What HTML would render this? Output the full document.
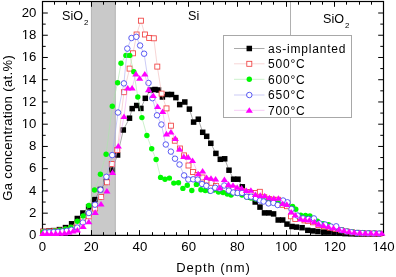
<!DOCTYPE html>
<html><head><meta charset="utf-8"><style>
html,body{margin:0;padding:0;background:#fff;}
svg{display:block;will-change:transform;}
text{font-family:"Liberation Sans",sans-serif;fill:#000;}
</style></head><body>
<svg width="396" height="277" viewBox="0 0 396 277">
<rect width="396" height="277" fill="#fff"/>
<rect x="91.4" y="1.5" width="23.90" height="233.9" fill="#c9c9c9" stroke="#b4b4b4" stroke-width="1"/><line x1="290.5" y1="1.5" x2="290.5" y2="235.4" stroke="#b0b0b0" stroke-width="1.0"/>
<g stroke="#000" stroke-width="1.0"><line x1="42.5" y1="235.40" x2="47.8" y2="235.40"/><line x1="383.5" y1="235.40" x2="378.2" y2="235.40"/><line x1="42.5" y1="224.28" x2="45.7" y2="224.28"/><line x1="383.5" y1="224.28" x2="380.3" y2="224.28"/><line x1="42.5" y1="213.16" x2="47.8" y2="213.16"/><line x1="383.5" y1="213.16" x2="378.2" y2="213.16"/><line x1="42.5" y1="202.04" x2="45.7" y2="202.04"/><line x1="383.5" y1="202.04" x2="380.3" y2="202.04"/><line x1="42.5" y1="190.92" x2="47.8" y2="190.92"/><line x1="383.5" y1="190.92" x2="378.2" y2="190.92"/><line x1="42.5" y1="179.80" x2="45.7" y2="179.80"/><line x1="383.5" y1="179.80" x2="380.3" y2="179.80"/><line x1="42.5" y1="168.68" x2="47.8" y2="168.68"/><line x1="383.5" y1="168.68" x2="378.2" y2="168.68"/><line x1="42.5" y1="157.56" x2="45.7" y2="157.56"/><line x1="383.5" y1="157.56" x2="380.3" y2="157.56"/><line x1="42.5" y1="146.44" x2="47.8" y2="146.44"/><line x1="383.5" y1="146.44" x2="378.2" y2="146.44"/><line x1="42.5" y1="135.32" x2="45.7" y2="135.32"/><line x1="383.5" y1="135.32" x2="380.3" y2="135.32"/><line x1="42.5" y1="124.20" x2="47.8" y2="124.20"/><line x1="383.5" y1="124.20" x2="378.2" y2="124.20"/><line x1="42.5" y1="113.08" x2="45.7" y2="113.08"/><line x1="383.5" y1="113.08" x2="380.3" y2="113.08"/><line x1="42.5" y1="101.96" x2="47.8" y2="101.96"/><line x1="383.5" y1="101.96" x2="378.2" y2="101.96"/><line x1="42.5" y1="90.84" x2="45.7" y2="90.84"/><line x1="383.5" y1="90.84" x2="380.3" y2="90.84"/><line x1="42.5" y1="79.72" x2="47.8" y2="79.72"/><line x1="383.5" y1="79.72" x2="378.2" y2="79.72"/><line x1="42.5" y1="68.60" x2="45.7" y2="68.60"/><line x1="383.5" y1="68.60" x2="380.3" y2="68.60"/><line x1="42.5" y1="57.48" x2="47.8" y2="57.48"/><line x1="383.5" y1="57.48" x2="378.2" y2="57.48"/><line x1="42.5" y1="46.36" x2="45.7" y2="46.36"/><line x1="383.5" y1="46.36" x2="380.3" y2="46.36"/><line x1="42.5" y1="35.24" x2="47.8" y2="35.24"/><line x1="383.5" y1="35.24" x2="378.2" y2="35.24"/><line x1="42.5" y1="24.12" x2="45.7" y2="24.12"/><line x1="383.5" y1="24.12" x2="380.3" y2="24.12"/><line x1="42.5" y1="13.00" x2="47.8" y2="13.00"/><line x1="383.5" y1="13.00" x2="378.2" y2="13.00"/><line x1="42.50" y1="235.4" x2="42.50" y2="230.1"/><line x1="42.50" y1="1.5" x2="42.50" y2="6.8"/><line x1="54.50" y1="235.4" x2="54.50" y2="232.20000000000002"/><line x1="54.50" y1="1.5" x2="54.50" y2="4.7"/><line x1="66.50" y1="235.4" x2="66.50" y2="232.20000000000002"/><line x1="66.50" y1="1.5" x2="66.50" y2="4.7"/><line x1="79.50" y1="235.4" x2="79.50" y2="232.20000000000002"/><line x1="79.50" y1="1.5" x2="79.50" y2="4.7"/><line x1="91.50" y1="235.4" x2="91.50" y2="230.1"/><line x1="91.50" y1="1.5" x2="91.50" y2="6.8"/><line x1="103.50" y1="235.4" x2="103.50" y2="232.20000000000002"/><line x1="103.50" y1="1.5" x2="103.50" y2="4.7"/><line x1="115.50" y1="235.4" x2="115.50" y2="232.20000000000002"/><line x1="115.50" y1="1.5" x2="115.50" y2="4.7"/><line x1="127.50" y1="235.4" x2="127.50" y2="232.20000000000002"/><line x1="127.50" y1="1.5" x2="127.50" y2="4.7"/><line x1="139.50" y1="235.4" x2="139.50" y2="230.1"/><line x1="139.50" y1="1.5" x2="139.50" y2="6.8"/><line x1="152.50" y1="235.4" x2="152.50" y2="232.20000000000002"/><line x1="152.50" y1="1.5" x2="152.50" y2="4.7"/><line x1="164.50" y1="235.4" x2="164.50" y2="232.20000000000002"/><line x1="164.50" y1="1.5" x2="164.50" y2="4.7"/><line x1="176.50" y1="235.4" x2="176.50" y2="232.20000000000002"/><line x1="176.50" y1="1.5" x2="176.50" y2="4.7"/><line x1="188.50" y1="235.4" x2="188.50" y2="230.1"/><line x1="188.50" y1="1.5" x2="188.50" y2="6.8"/><line x1="200.50" y1="235.4" x2="200.50" y2="232.20000000000002"/><line x1="200.50" y1="1.5" x2="200.50" y2="4.7"/><line x1="213.50" y1="235.4" x2="213.50" y2="232.20000000000002"/><line x1="213.50" y1="1.5" x2="213.50" y2="4.7"/><line x1="225.50" y1="235.4" x2="225.50" y2="232.20000000000002"/><line x1="225.50" y1="1.5" x2="225.50" y2="4.7"/><line x1="237.50" y1="235.4" x2="237.50" y2="230.1"/><line x1="237.50" y1="1.5" x2="237.50" y2="6.8"/><line x1="249.50" y1="235.4" x2="249.50" y2="232.20000000000002"/><line x1="249.50" y1="1.5" x2="249.50" y2="4.7"/><line x1="261.50" y1="235.4" x2="261.50" y2="232.20000000000002"/><line x1="261.50" y1="1.5" x2="261.50" y2="4.7"/><line x1="273.50" y1="235.4" x2="273.50" y2="232.20000000000002"/><line x1="273.50" y1="1.5" x2="273.50" y2="4.7"/><line x1="286.50" y1="235.4" x2="286.50" y2="230.1"/><line x1="286.50" y1="1.5" x2="286.50" y2="6.8"/><line x1="298.50" y1="235.4" x2="298.50" y2="232.20000000000002"/><line x1="298.50" y1="1.5" x2="298.50" y2="4.7"/><line x1="310.50" y1="235.4" x2="310.50" y2="232.20000000000002"/><line x1="310.50" y1="1.5" x2="310.50" y2="4.7"/><line x1="322.50" y1="235.4" x2="322.50" y2="232.20000000000002"/><line x1="322.50" y1="1.5" x2="322.50" y2="4.7"/><line x1="334.50" y1="235.4" x2="334.50" y2="230.1"/><line x1="334.50" y1="1.5" x2="334.50" y2="6.8"/><line x1="346.50" y1="235.4" x2="346.50" y2="232.20000000000002"/><line x1="346.50" y1="1.5" x2="346.50" y2="4.7"/><line x1="359.50" y1="235.4" x2="359.50" y2="232.20000000000002"/><line x1="359.50" y1="1.5" x2="359.50" y2="4.7"/><line x1="371.50" y1="235.4" x2="371.50" y2="232.20000000000002"/><line x1="371.50" y1="1.5" x2="371.50" y2="4.7"/><line x1="383.50" y1="235.4" x2="383.50" y2="230.1"/><line x1="383.50" y1="1.5" x2="383.50" y2="6.8"/></g>
<rect x="42.5" y="1.5" width="341.0" height="233.9" fill="none" stroke="#000" stroke-width="1.2"/>
<g><polyline points="43.2,231.5 48.9,231.0 53.5,230.6 59.4,229.6 65.5,227.6 71.6,223.8 77.3,218.5 82.9,213.0 88.6,207.0 94.8,199.6 100.4,189.5 106.4,181.5 111.8,170.0 117.6,155.0 123.3,130.0 129.5,118.2 132.2,108.6 136.7,105.5 140.9,108.4 145.3,98.3 150.5,90.0 155.0,89.5 158.5,90.0 162.4,97.0 167.7,94.5 171.5,94.5 175.9,97.6 179.7,104.6 184.8,102.0 189.4,109.1 193.6,122.1 198.3,119.2 202.7,132.3 206.7,136.3 210.8,143.3 215.9,153.4 220.3,159.3 224.7,158.8 229.0,170.2 233.6,179.2 238.0,179.2 242.3,186.8 246.5,192.0 250.8,197.0 255.2,202.0 260.0,207.1 264.5,212.9 269.1,212.9 273.6,213.9 278.2,220.0 282.7,220.0 287.0,224.1 292.0,226.5 296.5,227.1 302.1,227.7 307.8,230.3 312.8,230.9 317.9,231.5 323.6,232.1 328.6,232.1 334.0,232.9 339.5,233.3 345.0,233.6 350.5,233.8 356.0,234.0 361.5,234.0 367.0,234.1 372.5,234.1 378.0,234.2" fill="none" stroke="#707070" stroke-width="0.6"/><rect x="40.45" y="228.75" width="5.5" height="5.5" fill="#000" stroke="#000" stroke-width="0.0"/><rect x="46.15" y="228.25" width="5.5" height="5.5" fill="#000" stroke="#000" stroke-width="0.0"/><rect x="50.75" y="227.85" width="5.5" height="5.5" fill="#000" stroke="#000" stroke-width="0.0"/><rect x="56.65" y="226.85" width="5.5" height="5.5" fill="#000" stroke="#000" stroke-width="0.0"/><rect x="62.75" y="224.85" width="5.5" height="5.5" fill="#000" stroke="#000" stroke-width="0.0"/><rect x="68.85" y="221.05" width="5.5" height="5.5" fill="#000" stroke="#000" stroke-width="0.0"/><rect x="74.55" y="215.75" width="5.5" height="5.5" fill="#000" stroke="#000" stroke-width="0.0"/><rect x="80.15" y="210.25" width="5.5" height="5.5" fill="#000" stroke="#000" stroke-width="0.0"/><rect x="85.85" y="204.25" width="5.5" height="5.5" fill="#000" stroke="#000" stroke-width="0.0"/><rect x="92.05" y="196.85" width="5.5" height="5.5" fill="#000" stroke="#000" stroke-width="0.0"/><rect x="97.65" y="186.75" width="5.5" height="5.5" fill="#000" stroke="#000" stroke-width="0.0"/><rect x="103.65" y="178.75" width="5.5" height="5.5" fill="#000" stroke="#000" stroke-width="0.0"/><rect x="109.05" y="167.25" width="5.5" height="5.5" fill="#000" stroke="#000" stroke-width="0.0"/><rect x="114.85" y="152.25" width="5.5" height="5.5" fill="#000" stroke="#000" stroke-width="0.0"/><rect x="120.55" y="127.25" width="5.5" height="5.5" fill="#000" stroke="#000" stroke-width="0.0"/><rect x="126.75" y="115.45" width="5.5" height="5.5" fill="#000" stroke="#000" stroke-width="0.0"/><rect x="129.45" y="105.85" width="5.5" height="5.5" fill="#000" stroke="#000" stroke-width="0.0"/><rect x="133.95" y="102.75" width="5.5" height="5.5" fill="#000" stroke="#000" stroke-width="0.0"/><rect x="138.15" y="105.65" width="5.5" height="5.5" fill="#000" stroke="#000" stroke-width="0.0"/><rect x="142.55" y="95.55" width="5.5" height="5.5" fill="#000" stroke="#000" stroke-width="0.0"/><rect x="147.75" y="87.25" width="5.5" height="5.5" fill="#000" stroke="#000" stroke-width="0.0"/><rect x="152.25" y="86.75" width="5.5" height="5.5" fill="#000" stroke="#000" stroke-width="0.0"/><rect x="155.75" y="87.25" width="5.5" height="5.5" fill="#000" stroke="#000" stroke-width="0.0"/><rect x="159.65" y="94.25" width="5.5" height="5.5" fill="#000" stroke="#000" stroke-width="0.0"/><rect x="164.95" y="91.75" width="5.5" height="5.5" fill="#000" stroke="#000" stroke-width="0.0"/><rect x="168.75" y="91.75" width="5.5" height="5.5" fill="#000" stroke="#000" stroke-width="0.0"/><rect x="173.15" y="94.85" width="5.5" height="5.5" fill="#000" stroke="#000" stroke-width="0.0"/><rect x="176.95" y="101.85" width="5.5" height="5.5" fill="#000" stroke="#000" stroke-width="0.0"/><rect x="182.05" y="99.25" width="5.5" height="5.5" fill="#000" stroke="#000" stroke-width="0.0"/><rect x="186.65" y="106.35" width="5.5" height="5.5" fill="#000" stroke="#000" stroke-width="0.0"/><rect x="190.85" y="119.35" width="5.5" height="5.5" fill="#000" stroke="#000" stroke-width="0.0"/><rect x="195.55" y="116.45" width="5.5" height="5.5" fill="#000" stroke="#000" stroke-width="0.0"/><rect x="199.95" y="129.55" width="5.5" height="5.5" fill="#000" stroke="#000" stroke-width="0.0"/><rect x="203.95" y="133.55" width="5.5" height="5.5" fill="#000" stroke="#000" stroke-width="0.0"/><rect x="208.05" y="140.55" width="5.5" height="5.5" fill="#000" stroke="#000" stroke-width="0.0"/><rect x="213.15" y="150.65" width="5.5" height="5.5" fill="#000" stroke="#000" stroke-width="0.0"/><rect x="217.55" y="156.55" width="5.5" height="5.5" fill="#000" stroke="#000" stroke-width="0.0"/><rect x="221.95" y="156.05" width="5.5" height="5.5" fill="#000" stroke="#000" stroke-width="0.0"/><rect x="226.25" y="167.45" width="5.5" height="5.5" fill="#000" stroke="#000" stroke-width="0.0"/><rect x="230.85" y="176.45" width="5.5" height="5.5" fill="#000" stroke="#000" stroke-width="0.0"/><rect x="235.25" y="176.45" width="5.5" height="5.5" fill="#000" stroke="#000" stroke-width="0.0"/><rect x="239.55" y="184.05" width="5.5" height="5.5" fill="#000" stroke="#000" stroke-width="0.0"/><rect x="243.75" y="189.25" width="5.5" height="5.5" fill="#000" stroke="#000" stroke-width="0.0"/><rect x="248.05" y="194.25" width="5.5" height="5.5" fill="#000" stroke="#000" stroke-width="0.0"/><rect x="252.45" y="199.25" width="5.5" height="5.5" fill="#000" stroke="#000" stroke-width="0.0"/><rect x="257.25" y="204.35" width="5.5" height="5.5" fill="#000" stroke="#000" stroke-width="0.0"/><rect x="261.75" y="210.15" width="5.5" height="5.5" fill="#000" stroke="#000" stroke-width="0.0"/><rect x="266.35" y="210.15" width="5.5" height="5.5" fill="#000" stroke="#000" stroke-width="0.0"/><rect x="270.85" y="211.15" width="5.5" height="5.5" fill="#000" stroke="#000" stroke-width="0.0"/><rect x="275.45" y="217.25" width="5.5" height="5.5" fill="#000" stroke="#000" stroke-width="0.0"/><rect x="279.95" y="217.25" width="5.5" height="5.5" fill="#000" stroke="#000" stroke-width="0.0"/><rect x="284.25" y="221.35" width="5.5" height="5.5" fill="#000" stroke="#000" stroke-width="0.0"/><rect x="289.25" y="223.75" width="5.5" height="5.5" fill="#000" stroke="#000" stroke-width="0.0"/><rect x="293.75" y="224.35" width="5.5" height="5.5" fill="#000" stroke="#000" stroke-width="0.0"/><rect x="299.35" y="224.95" width="5.5" height="5.5" fill="#000" stroke="#000" stroke-width="0.0"/><rect x="305.05" y="227.55" width="5.5" height="5.5" fill="#000" stroke="#000" stroke-width="0.0"/><rect x="310.05" y="228.15" width="5.5" height="5.5" fill="#000" stroke="#000" stroke-width="0.0"/><rect x="315.15" y="228.75" width="5.5" height="5.5" fill="#000" stroke="#000" stroke-width="0.0"/><rect x="320.85" y="229.35" width="5.5" height="5.5" fill="#000" stroke="#000" stroke-width="0.0"/><rect x="325.85" y="229.35" width="5.5" height="5.5" fill="#000" stroke="#000" stroke-width="0.0"/><rect x="331.25" y="230.15" width="5.5" height="5.5" fill="#000" stroke="#000" stroke-width="0.0"/><rect x="336.75" y="230.55" width="5.5" height="5.5" fill="#000" stroke="#000" stroke-width="0.0"/><rect x="342.25" y="230.85" width="5.5" height="5.5" fill="#000" stroke="#000" stroke-width="0.0"/><rect x="347.75" y="231.05" width="5.5" height="5.5" fill="#000" stroke="#000" stroke-width="0.0"/><rect x="353.25" y="231.25" width="5.5" height="5.5" fill="#000" stroke="#000" stroke-width="0.0"/><rect x="358.75" y="231.25" width="5.5" height="5.5" fill="#000" stroke="#000" stroke-width="0.0"/><rect x="364.25" y="231.35" width="5.5" height="5.5" fill="#000" stroke="#000" stroke-width="0.0"/><rect x="369.75" y="231.35" width="5.5" height="5.5" fill="#000" stroke="#000" stroke-width="0.0"/><rect x="375.25" y="231.45" width="5.5" height="5.5" fill="#000" stroke="#000" stroke-width="0.0"/><polyline points="43.2,231.6 48.9,231.4 54.6,231.0 60.3,230.6 66.0,229.8 71.7,227.8 77.4,224.5 83.1,220.0 88.8,216.3 94.9,208.5 101.2,197.0 106.9,182.3 111.8,164.0 117.3,150.0 123.9,92.2 129.6,68.6 133.0,53.3 136.6,34.5 140.9,20.7 144.9,34.5 149.2,37.9 153.8,38.3 157.3,66.6 161.6,93.6 166.5,108.4 170.9,125.7 174.8,140.7 179.9,148.5 184.0,155.4 188.5,165.5 193.0,172.0 197.5,175.0 202.5,177.5 207.0,180.5 211.5,182.8 216.0,186.0 220.0,190.5 224.5,189.0 229.0,189.5 233.3,188.5 238.0,190.0 242.5,191.0 247.0,192.0 251.5,193.0 255.5,193.0 259.8,191.8 264.3,197.3 269.0,199.1 273.5,199.8 278.0,199.8 282.5,204.8 287.0,206.2 291.0,216.3 295.3,219.0 300.0,217.0 304.5,220.4 307.8,220.8 313.0,222.3 318.5,225.1 324.0,226.3 329.5,227.4 330.0,227.6 335.5,228.9 341.0,230.2 346.5,231.5 352.0,232.4 357.5,232.9 363.0,233.3 368.5,233.5 374.0,233.6 379.5,233.7" fill="none" stroke="#f0b8b8" stroke-width="0.6"/><rect x="40.70" y="229.10" width="5.0" height="5.0" fill="#fff" stroke="#f04040" stroke-width="0.85"/><rect x="46.40" y="228.90" width="5.0" height="5.0" fill="#fff" stroke="#f04040" stroke-width="0.85"/><rect x="52.10" y="228.50" width="5.0" height="5.0" fill="#fff" stroke="#f04040" stroke-width="0.85"/><rect x="57.80" y="228.10" width="5.0" height="5.0" fill="#fff" stroke="#f04040" stroke-width="0.85"/><rect x="63.50" y="227.30" width="5.0" height="5.0" fill="#fff" stroke="#f04040" stroke-width="0.85"/><rect x="69.20" y="225.30" width="5.0" height="5.0" fill="#fff" stroke="#f04040" stroke-width="0.85"/><rect x="74.90" y="222.00" width="5.0" height="5.0" fill="#fff" stroke="#f04040" stroke-width="0.85"/><rect x="80.60" y="217.50" width="5.0" height="5.0" fill="#fff" stroke="#f04040" stroke-width="0.85"/><rect x="86.30" y="213.80" width="5.0" height="5.0" fill="#fff" stroke="#f04040" stroke-width="0.85"/><rect x="92.40" y="206.00" width="5.0" height="5.0" fill="#fff" stroke="#f04040" stroke-width="0.85"/><rect x="98.70" y="194.50" width="5.0" height="5.0" fill="#fff" stroke="#f04040" stroke-width="0.85"/><rect x="104.40" y="179.80" width="5.0" height="5.0" fill="#fff" stroke="#f04040" stroke-width="0.85"/><rect x="109.30" y="161.50" width="5.0" height="5.0" fill="#fff" stroke="#f04040" stroke-width="0.85"/><rect x="114.80" y="147.50" width="5.0" height="5.0" fill="#fff" stroke="#f04040" stroke-width="0.85"/><rect x="121.40" y="89.70" width="5.0" height="5.0" fill="#fff" stroke="#f04040" stroke-width="0.85"/><rect x="127.10" y="66.10" width="5.0" height="5.0" fill="#fff" stroke="#f04040" stroke-width="0.85"/><rect x="130.50" y="50.80" width="5.0" height="5.0" fill="#fff" stroke="#f04040" stroke-width="0.85"/><rect x="134.10" y="32.00" width="5.0" height="5.0" fill="#fff" stroke="#f04040" stroke-width="0.85"/><rect x="138.40" y="18.20" width="5.0" height="5.0" fill="#fff" stroke="#f04040" stroke-width="0.85"/><rect x="142.40" y="32.00" width="5.0" height="5.0" fill="#fff" stroke="#f04040" stroke-width="0.85"/><rect x="146.70" y="35.40" width="5.0" height="5.0" fill="#fff" stroke="#f04040" stroke-width="0.85"/><rect x="151.30" y="35.80" width="5.0" height="5.0" fill="#fff" stroke="#f04040" stroke-width="0.85"/><rect x="154.80" y="64.10" width="5.0" height="5.0" fill="#fff" stroke="#f04040" stroke-width="0.85"/><rect x="159.10" y="91.10" width="5.0" height="5.0" fill="#fff" stroke="#f04040" stroke-width="0.85"/><rect x="164.00" y="105.90" width="5.0" height="5.0" fill="#fff" stroke="#f04040" stroke-width="0.85"/><rect x="168.40" y="123.20" width="5.0" height="5.0" fill="#fff" stroke="#f04040" stroke-width="0.85"/><rect x="172.30" y="138.20" width="5.0" height="5.0" fill="#fff" stroke="#f04040" stroke-width="0.85"/><rect x="177.40" y="146.00" width="5.0" height="5.0" fill="#fff" stroke="#f04040" stroke-width="0.85"/><rect x="181.50" y="152.90" width="5.0" height="5.0" fill="#fff" stroke="#f04040" stroke-width="0.85"/><rect x="186.00" y="163.00" width="5.0" height="5.0" fill="#fff" stroke="#f04040" stroke-width="0.85"/><rect x="190.50" y="169.50" width="5.0" height="5.0" fill="#fff" stroke="#f04040" stroke-width="0.85"/><rect x="195.00" y="172.50" width="5.0" height="5.0" fill="#fff" stroke="#f04040" stroke-width="0.85"/><rect x="200.00" y="175.00" width="5.0" height="5.0" fill="#fff" stroke="#f04040" stroke-width="0.85"/><rect x="204.50" y="178.00" width="5.0" height="5.0" fill="#fff" stroke="#f04040" stroke-width="0.85"/><rect x="209.00" y="180.30" width="5.0" height="5.0" fill="#fff" stroke="#f04040" stroke-width="0.85"/><rect x="213.50" y="183.50" width="5.0" height="5.0" fill="#fff" stroke="#f04040" stroke-width="0.85"/><rect x="217.50" y="188.00" width="5.0" height="5.0" fill="#fff" stroke="#f04040" stroke-width="0.85"/><rect x="222.00" y="186.50" width="5.0" height="5.0" fill="#fff" stroke="#f04040" stroke-width="0.85"/><rect x="226.50" y="187.00" width="5.0" height="5.0" fill="#fff" stroke="#f04040" stroke-width="0.85"/><rect x="230.80" y="186.00" width="5.0" height="5.0" fill="#fff" stroke="#f04040" stroke-width="0.85"/><rect x="235.50" y="187.50" width="5.0" height="5.0" fill="#fff" stroke="#f04040" stroke-width="0.85"/><rect x="240.00" y="188.50" width="5.0" height="5.0" fill="#fff" stroke="#f04040" stroke-width="0.85"/><rect x="244.50" y="189.50" width="5.0" height="5.0" fill="#fff" stroke="#f04040" stroke-width="0.85"/><rect x="249.00" y="190.50" width="5.0" height="5.0" fill="#fff" stroke="#f04040" stroke-width="0.85"/><rect x="253.00" y="190.50" width="5.0" height="5.0" fill="#fff" stroke="#f04040" stroke-width="0.85"/><rect x="257.30" y="189.30" width="5.0" height="5.0" fill="#fff" stroke="#f04040" stroke-width="0.85"/><rect x="261.80" y="194.80" width="5.0" height="5.0" fill="#fff" stroke="#f04040" stroke-width="0.85"/><rect x="266.50" y="196.60" width="5.0" height="5.0" fill="#fff" stroke="#f04040" stroke-width="0.85"/><rect x="271.00" y="197.30" width="5.0" height="5.0" fill="#fff" stroke="#f04040" stroke-width="0.85"/><rect x="275.50" y="197.30" width="5.0" height="5.0" fill="#fff" stroke="#f04040" stroke-width="0.85"/><rect x="280.00" y="202.30" width="5.0" height="5.0" fill="#fff" stroke="#f04040" stroke-width="0.85"/><rect x="284.50" y="203.70" width="5.0" height="5.0" fill="#fff" stroke="#f04040" stroke-width="0.85"/><rect x="288.50" y="213.80" width="5.0" height="5.0" fill="#fff" stroke="#f04040" stroke-width="0.85"/><rect x="292.80" y="216.50" width="5.0" height="5.0" fill="#fff" stroke="#f04040" stroke-width="0.85"/><rect x="297.50" y="214.50" width="5.0" height="5.0" fill="#fff" stroke="#f04040" stroke-width="0.85"/><rect x="302.00" y="217.90" width="5.0" height="5.0" fill="#fff" stroke="#f04040" stroke-width="0.85"/><rect x="305.30" y="218.30" width="5.0" height="5.0" fill="#fff" stroke="#f04040" stroke-width="0.85"/><rect x="310.50" y="219.80" width="5.0" height="5.0" fill="#fff" stroke="#f04040" stroke-width="0.85"/><rect x="316.00" y="222.60" width="5.0" height="5.0" fill="#fff" stroke="#f04040" stroke-width="0.85"/><rect x="321.50" y="223.80" width="5.0" height="5.0" fill="#fff" stroke="#f04040" stroke-width="0.85"/><rect x="327.00" y="224.90" width="5.0" height="5.0" fill="#fff" stroke="#f04040" stroke-width="0.85"/><rect x="327.50" y="225.10" width="5.0" height="5.0" fill="#fff" stroke="#f04040" stroke-width="0.85"/><rect x="333.00" y="226.40" width="5.0" height="5.0" fill="#fff" stroke="#f04040" stroke-width="0.85"/><rect x="338.50" y="227.70" width="5.0" height="5.0" fill="#fff" stroke="#f04040" stroke-width="0.85"/><rect x="344.00" y="229.00" width="5.0" height="5.0" fill="#fff" stroke="#f04040" stroke-width="0.85"/><rect x="349.50" y="229.90" width="5.0" height="5.0" fill="#fff" stroke="#f04040" stroke-width="0.85"/><rect x="355.00" y="230.40" width="5.0" height="5.0" fill="#fff" stroke="#f04040" stroke-width="0.85"/><rect x="360.50" y="230.80" width="5.0" height="5.0" fill="#fff" stroke="#f04040" stroke-width="0.85"/><rect x="366.00" y="231.00" width="5.0" height="5.0" fill="#fff" stroke="#f04040" stroke-width="0.85"/><rect x="371.50" y="231.10" width="5.0" height="5.0" fill="#fff" stroke="#f04040" stroke-width="0.85"/><rect x="377.00" y="231.20" width="5.0" height="5.0" fill="#fff" stroke="#f04040" stroke-width="0.85"/><polyline points="43.2,232.0 48.9,231.6 54.6,231.0 59.8,230.2 65.5,229.0 70.8,227.2 77.3,221.2 83.1,216.0 88.8,205.5 94.5,190.0 100.4,174.2 106.1,154.3 112.3,106.2 117.6,82.7 121.0,63.3 125.9,55.4 129.7,55.4 133.8,71.8 137.8,97.0 141.9,117.6 146.9,135.5 151.7,148.8 156.1,159.5 160.6,177.4 165.0,179.3 169.4,178.1 173.8,183.1 178.5,182.7 182.9,188.4 187.3,185.3 191.8,190.5 196.4,184.4 200.9,189.7 205.3,190.5 209.7,191.0 214.1,190.0 218.5,192.0 223.0,192.5 227.3,194.1 231.1,195.0 237.0,193.4 242.0,195.0 246.5,197.0 251.0,198.0 255.5,199.0 260.0,200.0 264.5,201.0 269.0,202.0 273.5,202.5 278.0,203.0 282.5,203.5 287.0,204.5 292.6,206.5 295.8,209.2 300.7,215.2 305.5,215.5 309.9,216.0 317.5,221.1 323.0,223.6 328.5,224.7 331.5,227.3 337.0,228.6 342.3,229.9 347.5,231.1 352.8,231.9 358.3,232.4 363.8,232.7 369.3,232.9 374.8,233.0 380.3,233.1" fill="none" stroke="#a8e8a8" stroke-width="0.6"/><circle cx="43.20" cy="232.00" r="2.7" fill="#00f800" stroke="#00f800" stroke-width="0"/><circle cx="48.90" cy="231.60" r="2.7" fill="#00f800" stroke="#00f800" stroke-width="0"/><circle cx="54.60" cy="231.00" r="2.7" fill="#00f800" stroke="#00f800" stroke-width="0"/><circle cx="59.80" cy="230.20" r="2.7" fill="#00f800" stroke="#00f800" stroke-width="0"/><circle cx="65.50" cy="229.00" r="2.7" fill="#00f800" stroke="#00f800" stroke-width="0"/><circle cx="70.80" cy="227.20" r="2.7" fill="#00f800" stroke="#00f800" stroke-width="0"/><circle cx="77.30" cy="221.20" r="2.7" fill="#00f800" stroke="#00f800" stroke-width="0"/><circle cx="83.10" cy="216.00" r="2.7" fill="#00f800" stroke="#00f800" stroke-width="0"/><circle cx="88.80" cy="205.50" r="2.7" fill="#00f800" stroke="#00f800" stroke-width="0"/><circle cx="94.50" cy="190.00" r="2.7" fill="#00f800" stroke="#00f800" stroke-width="0"/><circle cx="100.40" cy="174.20" r="2.7" fill="#00f800" stroke="#00f800" stroke-width="0"/><circle cx="106.10" cy="154.30" r="2.7" fill="#00f800" stroke="#00f800" stroke-width="0"/><circle cx="112.30" cy="106.20" r="2.7" fill="#00f800" stroke="#00f800" stroke-width="0"/><circle cx="117.60" cy="82.70" r="2.7" fill="#00f800" stroke="#00f800" stroke-width="0"/><circle cx="121.00" cy="63.30" r="2.7" fill="#00f800" stroke="#00f800" stroke-width="0"/><circle cx="125.90" cy="55.40" r="2.7" fill="#00f800" stroke="#00f800" stroke-width="0"/><circle cx="129.70" cy="55.40" r="2.7" fill="#00f800" stroke="#00f800" stroke-width="0"/><circle cx="133.80" cy="71.80" r="2.7" fill="#00f800" stroke="#00f800" stroke-width="0"/><circle cx="137.80" cy="97.00" r="2.7" fill="#00f800" stroke="#00f800" stroke-width="0"/><circle cx="141.90" cy="117.60" r="2.7" fill="#00f800" stroke="#00f800" stroke-width="0"/><circle cx="146.90" cy="135.50" r="2.7" fill="#00f800" stroke="#00f800" stroke-width="0"/><circle cx="151.70" cy="148.80" r="2.7" fill="#00f800" stroke="#00f800" stroke-width="0"/><circle cx="156.10" cy="159.50" r="2.7" fill="#00f800" stroke="#00f800" stroke-width="0"/><circle cx="160.60" cy="177.40" r="2.7" fill="#00f800" stroke="#00f800" stroke-width="0"/><circle cx="165.00" cy="179.30" r="2.7" fill="#00f800" stroke="#00f800" stroke-width="0"/><circle cx="169.40" cy="178.10" r="2.7" fill="#00f800" stroke="#00f800" stroke-width="0"/><circle cx="173.80" cy="183.10" r="2.7" fill="#00f800" stroke="#00f800" stroke-width="0"/><circle cx="178.50" cy="182.70" r="2.7" fill="#00f800" stroke="#00f800" stroke-width="0"/><circle cx="182.90" cy="188.40" r="2.7" fill="#00f800" stroke="#00f800" stroke-width="0"/><circle cx="187.30" cy="185.30" r="2.7" fill="#00f800" stroke="#00f800" stroke-width="0"/><circle cx="191.80" cy="190.50" r="2.7" fill="#00f800" stroke="#00f800" stroke-width="0"/><circle cx="196.40" cy="184.40" r="2.7" fill="#00f800" stroke="#00f800" stroke-width="0"/><circle cx="200.90" cy="189.70" r="2.7" fill="#00f800" stroke="#00f800" stroke-width="0"/><circle cx="205.30" cy="190.50" r="2.7" fill="#00f800" stroke="#00f800" stroke-width="0"/><circle cx="209.70" cy="191.00" r="2.7" fill="#00f800" stroke="#00f800" stroke-width="0"/><circle cx="214.10" cy="190.00" r="2.7" fill="#00f800" stroke="#00f800" stroke-width="0"/><circle cx="218.50" cy="192.00" r="2.7" fill="#00f800" stroke="#00f800" stroke-width="0"/><circle cx="223.00" cy="192.50" r="2.7" fill="#00f800" stroke="#00f800" stroke-width="0"/><circle cx="227.30" cy="194.10" r="2.7" fill="#00f800" stroke="#00f800" stroke-width="0"/><circle cx="231.10" cy="195.00" r="2.7" fill="#00f800" stroke="#00f800" stroke-width="0"/><circle cx="237.00" cy="193.40" r="2.7" fill="#00f800" stroke="#00f800" stroke-width="0"/><circle cx="242.00" cy="195.00" r="2.7" fill="#00f800" stroke="#00f800" stroke-width="0"/><circle cx="246.50" cy="197.00" r="2.7" fill="#00f800" stroke="#00f800" stroke-width="0"/><circle cx="251.00" cy="198.00" r="2.7" fill="#00f800" stroke="#00f800" stroke-width="0"/><circle cx="255.50" cy="199.00" r="2.7" fill="#00f800" stroke="#00f800" stroke-width="0"/><circle cx="260.00" cy="200.00" r="2.7" fill="#00f800" stroke="#00f800" stroke-width="0"/><circle cx="264.50" cy="201.00" r="2.7" fill="#00f800" stroke="#00f800" stroke-width="0"/><circle cx="269.00" cy="202.00" r="2.7" fill="#00f800" stroke="#00f800" stroke-width="0"/><circle cx="273.50" cy="202.50" r="2.7" fill="#00f800" stroke="#00f800" stroke-width="0"/><circle cx="278.00" cy="203.00" r="2.7" fill="#00f800" stroke="#00f800" stroke-width="0"/><circle cx="282.50" cy="203.50" r="2.7" fill="#00f800" stroke="#00f800" stroke-width="0"/><circle cx="287.00" cy="204.50" r="2.7" fill="#00f800" stroke="#00f800" stroke-width="0"/><circle cx="292.60" cy="206.50" r="2.7" fill="#00f800" stroke="#00f800" stroke-width="0"/><circle cx="295.80" cy="209.20" r="2.7" fill="#00f800" stroke="#00f800" stroke-width="0"/><circle cx="300.70" cy="215.20" r="2.7" fill="#00f800" stroke="#00f800" stroke-width="0"/><circle cx="305.50" cy="215.50" r="2.7" fill="#00f800" stroke="#00f800" stroke-width="0"/><circle cx="309.90" cy="216.00" r="2.7" fill="#00f800" stroke="#00f800" stroke-width="0"/><circle cx="317.50" cy="221.10" r="2.7" fill="#00f800" stroke="#00f800" stroke-width="0"/><circle cx="323.00" cy="223.60" r="2.7" fill="#00f800" stroke="#00f800" stroke-width="0"/><circle cx="328.50" cy="224.70" r="2.7" fill="#00f800" stroke="#00f800" stroke-width="0"/><circle cx="331.50" cy="227.30" r="2.7" fill="#00f800" stroke="#00f800" stroke-width="0"/><circle cx="337.00" cy="228.60" r="2.7" fill="#00f800" stroke="#00f800" stroke-width="0"/><circle cx="342.30" cy="229.90" r="2.7" fill="#00f800" stroke="#00f800" stroke-width="0"/><circle cx="347.50" cy="231.10" r="2.7" fill="#00f800" stroke="#00f800" stroke-width="0"/><circle cx="352.80" cy="231.90" r="2.7" fill="#00f800" stroke="#00f800" stroke-width="0"/><circle cx="358.30" cy="232.40" r="2.7" fill="#00f800" stroke="#00f800" stroke-width="0"/><circle cx="363.80" cy="232.70" r="2.7" fill="#00f800" stroke="#00f800" stroke-width="0"/><circle cx="369.30" cy="232.90" r="2.7" fill="#00f800" stroke="#00f800" stroke-width="0"/><circle cx="374.80" cy="233.00" r="2.7" fill="#00f800" stroke="#00f800" stroke-width="0"/><circle cx="380.30" cy="233.10" r="2.7" fill="#00f800" stroke="#00f800" stroke-width="0"/><polyline points="45.0,232.4 49.2,232.3 53.5,232.1 58.0,231.8 62.4,231.4 66.8,230.8 71.4,229.8 77.2,227.5 82.9,222.5 88.9,213.0 95.0,204.7 100.5,189.7 106.4,176.8 112.2,155.1 118.0,112.5 123.9,83.4 127.3,48.6 131.5,38.0 136.3,36.8 140.1,45.5 144.1,53.7 148.5,83.0 152.4,98.2 157.0,115.3 161.4,124.5 165.8,144.5 170.9,151.6 175.0,158.7 179.5,164.5 184.1,175.4 188.3,179.5 193.2,179.3 197.7,179.6 202.0,184.0 206.3,185.8 210.7,190.8 215.1,187.7 219.6,188.5 224.2,185.5 228.8,190.6 233.3,192.5 237.6,193.0 242.0,192.9 246.8,196.7 251.1,196.7 256.0,198.3 260.0,200.5 263.6,201.5 268.5,203.4 273.4,202.9 277.7,205.0 283.1,200.5 287.5,202.3 291.5,209.0 297.5,215.6 303.0,218.3 308.5,218.9 313.9,218.4 319.5,223.4 325.0,224.5 330.8,226.5 336.2,226.3 341.5,230.3 346.6,231.5 351.6,232.3 357.0,232.9 362.5,233.2 368.0,233.4 373.5,233.5 379.0,233.6" fill="none" stroke="#a8a8f0" stroke-width="0.6"/><circle cx="45.00" cy="232.40" r="2.75" fill="#fff" stroke="#4040f0" stroke-width="0.85"/><circle cx="49.20" cy="232.30" r="2.75" fill="#fff" stroke="#4040f0" stroke-width="0.85"/><circle cx="53.50" cy="232.10" r="2.75" fill="#fff" stroke="#4040f0" stroke-width="0.85"/><circle cx="58.00" cy="231.80" r="2.75" fill="#fff" stroke="#4040f0" stroke-width="0.85"/><circle cx="62.40" cy="231.40" r="2.75" fill="#fff" stroke="#4040f0" stroke-width="0.85"/><circle cx="66.80" cy="230.80" r="2.75" fill="#fff" stroke="#4040f0" stroke-width="0.85"/><circle cx="71.40" cy="229.80" r="2.75" fill="#fff" stroke="#4040f0" stroke-width="0.85"/><circle cx="77.20" cy="227.50" r="2.75" fill="#fff" stroke="#4040f0" stroke-width="0.85"/><circle cx="82.90" cy="222.50" r="2.75" fill="#fff" stroke="#4040f0" stroke-width="0.85"/><circle cx="88.90" cy="213.00" r="2.75" fill="#fff" stroke="#4040f0" stroke-width="0.85"/><circle cx="95.00" cy="204.70" r="2.75" fill="#fff" stroke="#4040f0" stroke-width="0.85"/><circle cx="100.50" cy="189.70" r="2.75" fill="#fff" stroke="#4040f0" stroke-width="0.85"/><circle cx="106.40" cy="176.80" r="2.75" fill="#fff" stroke="#4040f0" stroke-width="0.85"/><circle cx="112.20" cy="155.10" r="2.75" fill="#fff" stroke="#4040f0" stroke-width="0.85"/><circle cx="118.00" cy="112.50" r="2.75" fill="#fff" stroke="#4040f0" stroke-width="0.85"/><circle cx="123.90" cy="83.40" r="2.75" fill="#fff" stroke="#4040f0" stroke-width="0.85"/><circle cx="127.30" cy="48.60" r="2.75" fill="#fff" stroke="#4040f0" stroke-width="0.85"/><circle cx="131.50" cy="38.00" r="2.75" fill="#fff" stroke="#4040f0" stroke-width="0.85"/><circle cx="136.30" cy="36.80" r="2.75" fill="#fff" stroke="#4040f0" stroke-width="0.85"/><circle cx="140.10" cy="45.50" r="2.75" fill="#fff" stroke="#4040f0" stroke-width="0.85"/><circle cx="144.10" cy="53.70" r="2.75" fill="#fff" stroke="#4040f0" stroke-width="0.85"/><circle cx="148.50" cy="83.00" r="2.75" fill="#fff" stroke="#4040f0" stroke-width="0.85"/><circle cx="152.40" cy="98.20" r="2.75" fill="#fff" stroke="#4040f0" stroke-width="0.85"/><circle cx="157.00" cy="115.30" r="2.75" fill="#fff" stroke="#4040f0" stroke-width="0.85"/><circle cx="161.40" cy="124.50" r="2.75" fill="#fff" stroke="#4040f0" stroke-width="0.85"/><circle cx="165.80" cy="144.50" r="2.75" fill="#fff" stroke="#4040f0" stroke-width="0.85"/><circle cx="170.90" cy="151.60" r="2.75" fill="#fff" stroke="#4040f0" stroke-width="0.85"/><circle cx="175.00" cy="158.70" r="2.75" fill="#fff" stroke="#4040f0" stroke-width="0.85"/><circle cx="179.50" cy="164.50" r="2.75" fill="#fff" stroke="#4040f0" stroke-width="0.85"/><circle cx="184.10" cy="175.40" r="2.75" fill="#fff" stroke="#4040f0" stroke-width="0.85"/><circle cx="188.30" cy="179.50" r="2.75" fill="#fff" stroke="#4040f0" stroke-width="0.85"/><circle cx="193.20" cy="179.30" r="2.75" fill="#fff" stroke="#4040f0" stroke-width="0.85"/><circle cx="197.70" cy="179.60" r="2.75" fill="#fff" stroke="#4040f0" stroke-width="0.85"/><circle cx="202.00" cy="184.00" r="2.75" fill="#fff" stroke="#4040f0" stroke-width="0.85"/><circle cx="206.30" cy="185.80" r="2.75" fill="#fff" stroke="#4040f0" stroke-width="0.85"/><circle cx="210.70" cy="190.80" r="2.75" fill="#fff" stroke="#4040f0" stroke-width="0.85"/><circle cx="215.10" cy="187.70" r="2.75" fill="#fff" stroke="#4040f0" stroke-width="0.85"/><circle cx="219.60" cy="188.50" r="2.75" fill="#fff" stroke="#4040f0" stroke-width="0.85"/><circle cx="224.20" cy="185.50" r="2.75" fill="#fff" stroke="#4040f0" stroke-width="0.85"/><circle cx="228.80" cy="190.60" r="2.75" fill="#fff" stroke="#4040f0" stroke-width="0.85"/><circle cx="233.30" cy="192.50" r="2.75" fill="#fff" stroke="#4040f0" stroke-width="0.85"/><circle cx="237.60" cy="193.00" r="2.75" fill="#fff" stroke="#4040f0" stroke-width="0.85"/><circle cx="242.00" cy="192.90" r="2.75" fill="#fff" stroke="#4040f0" stroke-width="0.85"/><circle cx="246.80" cy="196.70" r="2.75" fill="#fff" stroke="#4040f0" stroke-width="0.85"/><circle cx="251.10" cy="196.70" r="2.75" fill="#fff" stroke="#4040f0" stroke-width="0.85"/><circle cx="256.00" cy="198.30" r="2.75" fill="#fff" stroke="#4040f0" stroke-width="0.85"/><circle cx="260.00" cy="200.50" r="2.75" fill="#fff" stroke="#4040f0" stroke-width="0.85"/><circle cx="263.60" cy="201.50" r="2.75" fill="#fff" stroke="#4040f0" stroke-width="0.85"/><circle cx="268.50" cy="203.40" r="2.75" fill="#fff" stroke="#4040f0" stroke-width="0.85"/><circle cx="273.40" cy="202.90" r="2.75" fill="#fff" stroke="#4040f0" stroke-width="0.85"/><circle cx="277.70" cy="205.00" r="2.75" fill="#fff" stroke="#4040f0" stroke-width="0.85"/><circle cx="283.10" cy="200.50" r="2.75" fill="#fff" stroke="#4040f0" stroke-width="0.85"/><circle cx="287.50" cy="202.30" r="2.75" fill="#fff" stroke="#4040f0" stroke-width="0.85"/><circle cx="291.50" cy="209.00" r="2.75" fill="#fff" stroke="#4040f0" stroke-width="0.85"/><circle cx="297.50" cy="215.60" r="2.75" fill="#fff" stroke="#4040f0" stroke-width="0.85"/><circle cx="303.00" cy="218.30" r="2.75" fill="#fff" stroke="#4040f0" stroke-width="0.85"/><circle cx="308.50" cy="218.90" r="2.75" fill="#fff" stroke="#4040f0" stroke-width="0.85"/><circle cx="313.90" cy="218.40" r="2.75" fill="#fff" stroke="#4040f0" stroke-width="0.85"/><circle cx="319.50" cy="223.40" r="2.75" fill="#fff" stroke="#4040f0" stroke-width="0.85"/><circle cx="325.00" cy="224.50" r="2.75" fill="#fff" stroke="#4040f0" stroke-width="0.85"/><circle cx="330.80" cy="226.50" r="2.75" fill="#fff" stroke="#4040f0" stroke-width="0.85"/><circle cx="336.20" cy="226.30" r="2.75" fill="#fff" stroke="#4040f0" stroke-width="0.85"/><circle cx="341.50" cy="230.30" r="2.75" fill="#fff" stroke="#4040f0" stroke-width="0.85"/><circle cx="346.60" cy="231.50" r="2.75" fill="#fff" stroke="#4040f0" stroke-width="0.85"/><circle cx="351.60" cy="232.30" r="2.75" fill="#fff" stroke="#4040f0" stroke-width="0.85"/><circle cx="357.00" cy="232.90" r="2.75" fill="#fff" stroke="#4040f0" stroke-width="0.85"/><circle cx="362.50" cy="233.20" r="2.75" fill="#fff" stroke="#4040f0" stroke-width="0.85"/><circle cx="368.00" cy="233.40" r="2.75" fill="#fff" stroke="#4040f0" stroke-width="0.85"/><circle cx="373.50" cy="233.50" r="2.75" fill="#fff" stroke="#4040f0" stroke-width="0.85"/><circle cx="379.00" cy="233.60" r="2.75" fill="#fff" stroke="#4040f0" stroke-width="0.85"/><polyline points="42.8,233.6 47.0,233.6 51.3,233.5 55.7,233.4 60.1,233.3 64.5,233.0 68.9,232.2 73.0,231.0 77.4,230.0 83.1,226.5 88.8,221.8 95.2,212.4 101.0,204.0 106.9,191.1 112.5,172.5 118.3,146.0 124.0,116.6 127.7,88.0 132.1,88.0 135.9,73.9 139.7,78.3 144.8,74.1 148.6,89.7 153.3,95.5 157.6,106.5 162.7,111.5 166.5,133.9 170.9,132.0 175.3,138.4 179.5,149.0 183.8,156.5 188.1,157.2 192.5,160.5 198.2,173.8 202.6,171.0 206.6,177.5 211.0,178.3 215.6,179.1 219.9,187.7 224.4,179.5 228.5,184.4 233.0,185.3 237.2,187.3 241.6,188.0 246.4,190.6 250.9,190.3 255.4,194.6 260.3,195.4 264.7,195.8 269.4,197.8 273.8,198.3 278.4,198.3 282.7,203.5 286.8,204.4 291.2,212.0 295.3,215.0 300.7,219.0 305.0,219.5 309.4,220.0 314.3,221.8 318.6,224.2 323.5,225.5 328.5,226.8 333.5,228.0 339.0,229.3 344.0,230.5 349.0,231.6 354.3,232.3 359.8,232.7 365.3,233.0 370.8,233.1 376.3,233.2 381.8,233.3" fill="none" stroke="#f0a8f0" stroke-width="0.6"/><path d="M42.80 230.52L46.40 236.12L39.20 236.12Z" fill="#ff00ff" stroke="#ff00ff" stroke-width="0"/><path d="M47.00 230.52L50.60 236.12L43.40 236.12Z" fill="#ff00ff" stroke="#ff00ff" stroke-width="0"/><path d="M51.30 230.42L54.90 236.02L47.70 236.02Z" fill="#ff00ff" stroke="#ff00ff" stroke-width="0"/><path d="M55.70 230.32L59.30 235.92L52.10 235.92Z" fill="#ff00ff" stroke="#ff00ff" stroke-width="0"/><path d="M60.10 230.22L63.70 235.82L56.50 235.82Z" fill="#ff00ff" stroke="#ff00ff" stroke-width="0"/><path d="M64.50 229.92L68.10 235.52L60.90 235.52Z" fill="#ff00ff" stroke="#ff00ff" stroke-width="0"/><path d="M68.90 229.12L72.50 234.72L65.30 234.72Z" fill="#ff00ff" stroke="#ff00ff" stroke-width="0"/><path d="M73.00 227.92L76.60 233.52L69.40 233.52Z" fill="#ff00ff" stroke="#ff00ff" stroke-width="0"/><path d="M77.40 226.92L81.00 232.52L73.80 232.52Z" fill="#ff00ff" stroke="#ff00ff" stroke-width="0"/><path d="M83.10 223.42L86.70 229.02L79.50 229.02Z" fill="#ff00ff" stroke="#ff00ff" stroke-width="0"/><path d="M88.80 218.72L92.40 224.32L85.20 224.32Z" fill="#ff00ff" stroke="#ff00ff" stroke-width="0"/><path d="M95.20 209.32L98.80 214.92L91.60 214.92Z" fill="#ff00ff" stroke="#ff00ff" stroke-width="0"/><path d="M101.00 200.92L104.60 206.52L97.40 206.52Z" fill="#ff00ff" stroke="#ff00ff" stroke-width="0"/><path d="M106.90 188.02L110.50 193.62L103.30 193.62Z" fill="#ff00ff" stroke="#ff00ff" stroke-width="0"/><path d="M112.50 169.42L116.10 175.02L108.90 175.02Z" fill="#ff00ff" stroke="#ff00ff" stroke-width="0"/><path d="M118.30 142.92L121.90 148.52L114.70 148.52Z" fill="#ff00ff" stroke="#ff00ff" stroke-width="0"/><path d="M124.00 113.52L127.60 119.12L120.40 119.12Z" fill="#ff00ff" stroke="#ff00ff" stroke-width="0"/><path d="M127.70 84.92L131.30 90.52L124.10 90.52Z" fill="#ff00ff" stroke="#ff00ff" stroke-width="0"/><path d="M132.10 84.92L135.70 90.52L128.50 90.52Z" fill="#ff00ff" stroke="#ff00ff" stroke-width="0"/><path d="M135.90 70.82L139.50 76.42L132.30 76.42Z" fill="#ff00ff" stroke="#ff00ff" stroke-width="0"/><path d="M139.70 75.22L143.30 80.82L136.10 80.82Z" fill="#ff00ff" stroke="#ff00ff" stroke-width="0"/><path d="M144.80 71.02L148.40 76.62L141.20 76.62Z" fill="#ff00ff" stroke="#ff00ff" stroke-width="0"/><path d="M148.60 86.62L152.20 92.22L145.00 92.22Z" fill="#ff00ff" stroke="#ff00ff" stroke-width="0"/><path d="M153.30 92.42L156.90 98.02L149.70 98.02Z" fill="#ff00ff" stroke="#ff00ff" stroke-width="0"/><path d="M157.60 103.42L161.20 109.02L154.00 109.02Z" fill="#ff00ff" stroke="#ff00ff" stroke-width="0"/><path d="M162.70 108.42L166.30 114.02L159.10 114.02Z" fill="#ff00ff" stroke="#ff00ff" stroke-width="0"/><path d="M166.50 130.82L170.10 136.42L162.90 136.42Z" fill="#ff00ff" stroke="#ff00ff" stroke-width="0"/><path d="M170.90 128.92L174.50 134.52L167.30 134.52Z" fill="#ff00ff" stroke="#ff00ff" stroke-width="0"/><path d="M175.30 135.32L178.90 140.92L171.70 140.92Z" fill="#ff00ff" stroke="#ff00ff" stroke-width="0"/><path d="M179.50 145.92L183.10 151.52L175.90 151.52Z" fill="#ff00ff" stroke="#ff00ff" stroke-width="0"/><path d="M183.80 153.42L187.40 159.02L180.20 159.02Z" fill="#ff00ff" stroke="#ff00ff" stroke-width="0"/><path d="M188.10 154.12L191.70 159.72L184.50 159.72Z" fill="#ff00ff" stroke="#ff00ff" stroke-width="0"/><path d="M192.50 157.42L196.10 163.02L188.90 163.02Z" fill="#ff00ff" stroke="#ff00ff" stroke-width="0"/><path d="M198.20 170.72L201.80 176.32L194.60 176.32Z" fill="#ff00ff" stroke="#ff00ff" stroke-width="0"/><path d="M202.60 167.92L206.20 173.52L199.00 173.52Z" fill="#ff00ff" stroke="#ff00ff" stroke-width="0"/><path d="M206.60 174.42L210.20 180.02L203.00 180.02Z" fill="#ff00ff" stroke="#ff00ff" stroke-width="0"/><path d="M211.00 175.22L214.60 180.82L207.40 180.82Z" fill="#ff00ff" stroke="#ff00ff" stroke-width="0"/><path d="M215.60 176.02L219.20 181.62L212.00 181.62Z" fill="#ff00ff" stroke="#ff00ff" stroke-width="0"/><path d="M219.90 184.62L223.50 190.22L216.30 190.22Z" fill="#ff00ff" stroke="#ff00ff" stroke-width="0"/><path d="M224.40 176.42L228.00 182.02L220.80 182.02Z" fill="#ff00ff" stroke="#ff00ff" stroke-width="0"/><path d="M228.50 181.32L232.10 186.92L224.90 186.92Z" fill="#ff00ff" stroke="#ff00ff" stroke-width="0"/><path d="M233.00 182.22L236.60 187.82L229.40 187.82Z" fill="#ff00ff" stroke="#ff00ff" stroke-width="0"/><path d="M237.20 184.22L240.80 189.82L233.60 189.82Z" fill="#ff00ff" stroke="#ff00ff" stroke-width="0"/><path d="M241.60 184.92L245.20 190.52L238.00 190.52Z" fill="#ff00ff" stroke="#ff00ff" stroke-width="0"/><path d="M246.40 187.52L250.00 193.12L242.80 193.12Z" fill="#ff00ff" stroke="#ff00ff" stroke-width="0"/><path d="M250.90 187.22L254.50 192.82L247.30 192.82Z" fill="#ff00ff" stroke="#ff00ff" stroke-width="0"/><path d="M255.40 191.52L259.00 197.12L251.80 197.12Z" fill="#ff00ff" stroke="#ff00ff" stroke-width="0"/><path d="M260.30 192.32L263.90 197.92L256.70 197.92Z" fill="#ff00ff" stroke="#ff00ff" stroke-width="0"/><path d="M264.70 192.72L268.30 198.32L261.10 198.32Z" fill="#ff00ff" stroke="#ff00ff" stroke-width="0"/><path d="M269.40 194.72L273.00 200.32L265.80 200.32Z" fill="#ff00ff" stroke="#ff00ff" stroke-width="0"/><path d="M273.80 195.22L277.40 200.82L270.20 200.82Z" fill="#ff00ff" stroke="#ff00ff" stroke-width="0"/><path d="M278.40 195.22L282.00 200.82L274.80 200.82Z" fill="#ff00ff" stroke="#ff00ff" stroke-width="0"/><path d="M282.70 200.42L286.30 206.02L279.10 206.02Z" fill="#ff00ff" stroke="#ff00ff" stroke-width="0"/><path d="M286.80 201.32L290.40 206.92L283.20 206.92Z" fill="#ff00ff" stroke="#ff00ff" stroke-width="0"/><path d="M291.20 208.92L294.80 214.52L287.60 214.52Z" fill="#ff00ff" stroke="#ff00ff" stroke-width="0"/><path d="M295.30 211.92L298.90 217.52L291.70 217.52Z" fill="#ff00ff" stroke="#ff00ff" stroke-width="0"/><path d="M300.70 215.92L304.30 221.52L297.10 221.52Z" fill="#ff00ff" stroke="#ff00ff" stroke-width="0"/><path d="M305.00 216.42L308.60 222.02L301.40 222.02Z" fill="#ff00ff" stroke="#ff00ff" stroke-width="0"/><path d="M309.40 216.92L313.00 222.52L305.80 222.52Z" fill="#ff00ff" stroke="#ff00ff" stroke-width="0"/><path d="M314.30 218.72L317.90 224.32L310.70 224.32Z" fill="#ff00ff" stroke="#ff00ff" stroke-width="0"/><path d="M318.60 221.12L322.20 226.72L315.00 226.72Z" fill="#ff00ff" stroke="#ff00ff" stroke-width="0"/><path d="M323.50 222.42L327.10 228.02L319.90 228.02Z" fill="#ff00ff" stroke="#ff00ff" stroke-width="0"/><path d="M328.50 223.72L332.10 229.32L324.90 229.32Z" fill="#ff00ff" stroke="#ff00ff" stroke-width="0"/><path d="M333.50 224.92L337.10 230.52L329.90 230.52Z" fill="#ff00ff" stroke="#ff00ff" stroke-width="0"/><path d="M339.00 226.22L342.60 231.82L335.40 231.82Z" fill="#ff00ff" stroke="#ff00ff" stroke-width="0"/><path d="M344.00 227.42L347.60 233.02L340.40 233.02Z" fill="#ff00ff" stroke="#ff00ff" stroke-width="0"/><path d="M349.00 228.52L352.60 234.12L345.40 234.12Z" fill="#ff00ff" stroke="#ff00ff" stroke-width="0"/><path d="M354.30 229.22L357.90 234.82L350.70 234.82Z" fill="#ff00ff" stroke="#ff00ff" stroke-width="0"/><path d="M359.80 229.62L363.40 235.22L356.20 235.22Z" fill="#ff00ff" stroke="#ff00ff" stroke-width="0"/><path d="M365.30 229.92L368.90 235.52L361.70 235.52Z" fill="#ff00ff" stroke="#ff00ff" stroke-width="0"/><path d="M370.80 230.02L374.40 235.62L367.20 235.62Z" fill="#ff00ff" stroke="#ff00ff" stroke-width="0"/><path d="M376.30 230.12L379.90 235.72L372.70 235.72Z" fill="#ff00ff" stroke="#ff00ff" stroke-width="0"/><path d="M381.80 230.22L385.40 235.82L378.20 235.82Z" fill="#ff00ff" stroke="#ff00ff" stroke-width="0"/></g>
<rect x="223.5" y="35.5" width="128.0" height="82.0" fill="#fff" stroke="#a8a8a8" stroke-width="1"/><line x1="234" y1="48.5" x2="264.5" y2="48.5" stroke="#707070" stroke-width="0.6"/><rect x="246.55" y="45.75" width="5.5" height="5.5" fill="#000" stroke="#000" stroke-width="0"/><text transform="translate(268,52.8) scale(1.0,1)" font-size="12" letter-spacing="0.8">as-implanted</text><line x1="234" y1="63.8" x2="264.5" y2="63.8" stroke="#f0b8b8" stroke-width="0.6"/><rect x="246.80" y="61.30" width="5.0" height="5.0" fill="#fff" stroke="#f04040" stroke-width="0.85"/><text transform="translate(268,68.1) scale(1.0,1)" font-size="12" letter-spacing="0.8">500°C</text><line x1="234" y1="79.3" x2="264.5" y2="79.3" stroke="#a8e8a8" stroke-width="0.6"/><circle cx="249.30" cy="79.30" r="2.7" fill="#00f800" stroke="#00f800" stroke-width="0"/><text transform="translate(268,83.6) scale(1.0,1)" font-size="12" letter-spacing="0.8">600°C</text><line x1="234" y1="95.0" x2="264.5" y2="95.0" stroke="#a8a8f0" stroke-width="0.6"/><circle cx="249.30" cy="95.00" r="2.75" fill="#fff" stroke="#4040f0" stroke-width="0.85"/><text transform="translate(268,99.3) scale(1.0,1)" font-size="12" letter-spacing="0.8">650°C</text><line x1="234" y1="110.3" x2="264.5" y2="110.3" stroke="#f0a8f0" stroke-width="0.6"/><path d="M249.30 107.22L252.90 112.82L245.70 112.82Z" fill="#ff00ff" stroke="#ff00ff" stroke-width="0"/><text transform="translate(268,114.6) scale(1.0,1)" font-size="12" letter-spacing="0.8">700°C</text>
<g font-size="12"><g transform="translate(36.40,239.20) scale(1.1,1)"><text text-anchor="end">0</text></g><g transform="translate(36.40,216.96) scale(1.1,1)"><text text-anchor="end">2</text></g><g transform="translate(36.40,194.72) scale(1.1,1)"><text text-anchor="end">4</text></g><g transform="translate(36.40,172.48) scale(1.1,1)"><text text-anchor="end">6</text></g><g transform="translate(36.40,150.24) scale(1.1,1)"><text text-anchor="end">8</text></g><g transform="translate(36.40,128.00) scale(1.1,1)"><text text-anchor="end">10</text><rect x="-13.15" y="-1.3" width="2.70" height="2.6" fill="#fff"/><rect x="-9.15" y="-1.3" width="2.70" height="2.6" fill="#fff"/></g><g transform="translate(36.40,105.76) scale(1.1,1)"><text text-anchor="end">12</text><rect x="-13.15" y="-1.3" width="2.70" height="2.6" fill="#fff"/><rect x="-9.15" y="-1.3" width="2.70" height="2.6" fill="#fff"/></g><g transform="translate(36.40,83.52) scale(1.1,1)"><text text-anchor="end">14</text><rect x="-13.15" y="-1.3" width="2.70" height="2.6" fill="#fff"/><rect x="-9.15" y="-1.3" width="2.70" height="2.6" fill="#fff"/></g><g transform="translate(36.40,61.28) scale(1.1,1)"><text text-anchor="end">16</text><rect x="-13.15" y="-1.3" width="2.70" height="2.6" fill="#fff"/><rect x="-9.15" y="-1.3" width="2.70" height="2.6" fill="#fff"/></g><g transform="translate(36.40,39.04) scale(1.1,1)"><text text-anchor="end">18</text><rect x="-13.15" y="-1.3" width="2.70" height="2.6" fill="#fff"/><rect x="-9.15" y="-1.3" width="2.70" height="2.6" fill="#fff"/></g><g transform="translate(36.40,16.80) scale(1.1,1)"><text text-anchor="end">20</text></g><g transform="translate(42.50,250.50) scale(1.1,1)"><text text-anchor="middle">0</text></g><g transform="translate(91.21,250.50) scale(1.1,1)"><text text-anchor="middle">20</text></g><g transform="translate(139.93,250.50) scale(1.1,1)"><text text-anchor="middle">40</text></g><g transform="translate(188.64,250.50) scale(1.1,1)"><text text-anchor="middle">60</text></g><g transform="translate(237.36,250.50) scale(1.1,1)"><text text-anchor="middle">80</text></g><g transform="translate(286.07,250.50) scale(1.1,1)"><text text-anchor="middle">100</text><rect x="-9.81" y="-1.3" width="2.70" height="2.6" fill="#fff"/><rect x="-5.81" y="-1.3" width="2.70" height="2.6" fill="#fff"/></g><g transform="translate(334.79,250.50) scale(1.1,1)"><text text-anchor="middle">120</text><rect x="-9.81" y="-1.3" width="2.70" height="2.6" fill="#fff"/><rect x="-5.81" y="-1.3" width="2.70" height="2.6" fill="#fff"/></g><g transform="translate(383.50,250.50) scale(1.1,1)"><text text-anchor="middle">140</text><rect x="-9.81" y="-1.3" width="2.70" height="2.6" fill="#fff"/><rect x="-5.81" y="-1.3" width="2.70" height="2.6" fill="#fff"/></g></g>
<text transform="translate(62,20.2) scale(1.05,1)" font-size="12">SiO<tspan font-size="7.5" dy="5" dx="1.0">2</tspan></text>
<text transform="translate(188,19.8) scale(1.05,1)" font-size="12">Si</text>
<text transform="translate(323,22.6) scale(1.05,1)" font-size="12">SiO<tspan font-size="7.5" dy="5" dx="1.0">2</tspan></text>
<text transform="translate(176.2,272.2) scale(1.0,1)" font-size="13" textLength="73.6" lengthAdjust="spacing">Depth (nm)</text>
<text transform="translate(11.6,200.8) scale(1.0,1) rotate(-90)" font-size="13" textLength="145.6" lengthAdjust="spacing">Ga concentration (at.%)</text>
</svg>
</body></html>
